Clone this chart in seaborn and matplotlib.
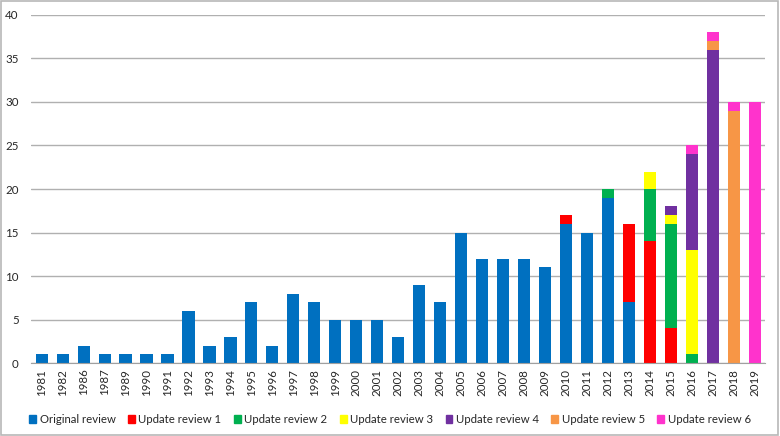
import numpy as np
import pandas as pd
import matplotlib
matplotlib.use("Agg")
import matplotlib.pyplot as plt
import seaborn as sns
from matplotlib.patches import Rectangle, Patch

years = ["1981", "1982", "1986", "1987", "1989", "1990", "1991", "1992", "1993", "1994",
         "1995", "1996", "1997", "1998", "1999", "2000", "2001", "2002", "2003", "2004",
         "2005", "2006", "2007", "2008", "2009", "2010", "2011", "2012", "2013", "2014",
         "2015", "2016", "2017", "2018", "2019"]

original = [1, 1, 2, 1, 1, 1, 1, 6, 2, 3, 7, 2, 8, 7, 5, 5, 5, 3, 9, 7,
            15, 12, 12, 12, 11, 16, 15, 19, 7, 0, 0, 0, 0, 0, 0]
update1 = [0] * 25 + [1, 0, 0, 9, 14, 4, 0, 0, 0, 0]
update2 = [0] * 27 + [1, 0, 6, 12, 1, 0, 0, 0]
update3 = [0] * 29 + [2, 1, 12, 0, 0, 0]
update4 = [0] * 30 + [1, 11, 36, 0, 0]
update5 = [0] * 32 + [1, 29, 0]
update6 = [0] * 31 + [1, 1, 1, 30]

series = ["Original review", "Update review 1", "Update review 2", "Update review 3",
          "Update review 4", "Update review 5", "Update review 6"]
values = [original, update1, update2, update3, update4, update5, update6]
colors = ["#0070C0", "#FF0000", "#00B050", "#FFFF00", "#7030A0", "#F79646", "#FF33CC"]

sns.set_style("white")
plt.rcParams["font.family"] = ["Lato", "DejaVu Sans"]

fig = plt.figure(figsize=(7.8, 4.36), dpi=100)
ax = fig.add_axes([0.040, 0.167, 0.941, 0.799])
ax.set_axisbelow(True)

bottom = np.zeros(len(years))
for name, vals, col in zip(series, values, colors):
    vals = np.array(vals, dtype=float)
    df = pd.DataFrame({"year": years, "n": vals})
    sns.barplot(data=df, x="year", y="n", color=col, bottom=bottom, width=0.58,
                saturation=1, linewidth=0, ax=ax)
    bottom = bottom + vals

ax.set_ylim(0, 40)
ax.set_xlim(-0.5, len(years) - 0.5)
ax.set_yticks(range(0, 41, 5))
ax.yaxis.grid(True, color="#b0b0b0", linewidth=1)
ax.set_xlabel("")
ax.set_ylabel("")
for s in ["top", "left", "right"]:
    ax.spines[s].set_visible(False)
ax.spines["bottom"].set_color("#a0a0a0")
ax.tick_params(axis="x", labelrotation=90, labelsize=8.3, length=0, pad=4)
ax.tick_params(axis="y", labelsize=8.3, length=0, pad=9)

handles = [Patch(color=c, label=s) for s, c in zip(series, colors)]
fig.legend(handles=handles, loc="center", bbox_to_anchor=(0.5, 0.037), ncol=7,
           frameon=False, fontsize=8.2, handlelength=0.6, handleheight=0.7,
           handletextpad=0.3, columnspacing=1.1)

fig.patches.append(Rectangle((0.001, 0.002), 0.997, 0.995, transform=fig.transFigure,
                             fill=False, edgecolor="#b8b8b8", linewidth=1.2))

fig.savefig("out.png", dpi=100)
